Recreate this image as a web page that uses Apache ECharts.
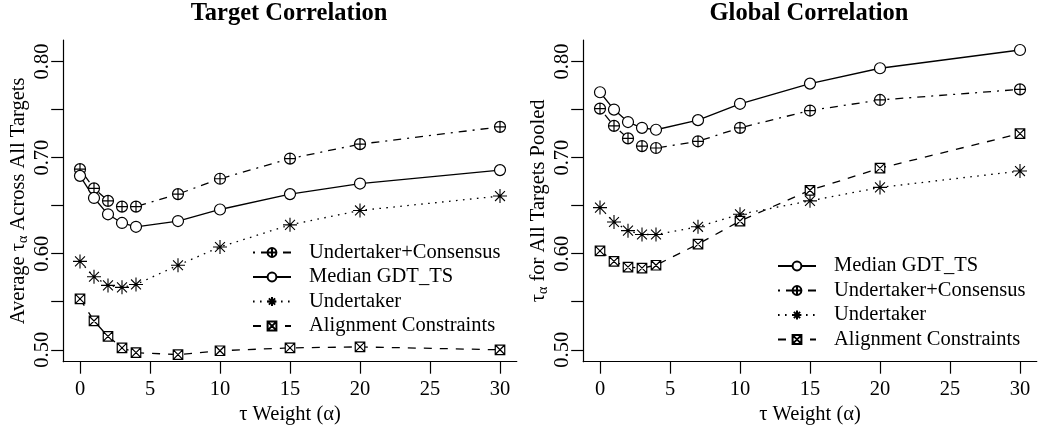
<!DOCTYPE html>
<html><head><meta charset="utf-8">
<script src="https://cdn.jsdelivr.net/npm/echarts@6/dist/echarts.min.js"></script>
<style>html,body{margin:0;padding:0;background:#fff}#c{width:1050px;height:433px}</style>
</head><body><div id="c"></div>
<script>
// ---- data ----
const xValues = [0, 1, 2, 3, 4, 7, 10, 15, 20, 30];
const xTicks = [0, 5, 10, 15, 20, 25, 30];
const yTicks = [0.50, 0.55, 0.60, 0.65, 0.70, 0.75, 0.80];
const yLabels = [0.50, 0.60, 0.70, 0.80];

const panelTitles = ['Target Correlation', 'Global Correlation'];
const xAxisTitle = 'τ Weight (α)';

// Target Correlation panel
const targetConsensus = [0.688, 0.668, 0.655, 0.649, 0.649, 0.662, 0.678, 0.699, 0.714, 0.732];
const targetMedian    = [0.681, 0.658, 0.641, 0.632, 0.628, 0.634, 0.646, 0.662, 0.673, 0.687];
const targetUndertaker= [0.592, 0.576, 0.567, 0.565, 0.568, 0.588, 0.607, 0.630, 0.645, 0.660];
const targetAlignment = [0.553, 0.530, 0.514, 0.502, 0.497, 0.495, 0.499, 0.502, 0.503, 0.500];

// Global Correlation panel
const globalMedian    = [0.768, 0.750, 0.737, 0.731, 0.729, 0.739, 0.756, 0.777, 0.793, 0.812];
const globalConsensus = [0.751, 0.733, 0.720, 0.712, 0.710, 0.717, 0.731, 0.749, 0.760, 0.771];
const globalUndertaker= [0.648, 0.633, 0.624, 0.620, 0.620, 0.628, 0.641, 0.655, 0.669, 0.686];
const globalAlignment = [0.603, 0.592, 0.586, 0.585, 0.588, 0.610, 0.634, 0.666, 0.689, 0.725];

const legendTarget = ['Undertaker+Consensus', 'Median GDT_TS', 'Undertaker', 'Alignment Constraints'];
const legendGlobal = ['Median GDT_TS', 'Undertaker+Consensus', 'Undertaker', 'Alignment Constraints'];

// ---- styles ----
const FONT = 'Liberation Serif, Times New Roman, serif';
const FS = 20.5;
const styles = {
  'Undertaker+Consensus': {
    symbol: 'path://M0,-10 A10,10 0 1,1 0,10 A10,10 0 1,1 0,-10 Z M-10,0 L10,0 M0,-10 L0,10',
    size: 11, dash: [2, 6, 8, 6], fill: '#fff', bw: 1.2
  },
  'Median GDT_TS': { symbol: 'circle', size: 11, dash: 'solid', fill: '#fff', bw: 1.2 },
  'Undertaker': {
    symbol: 'path://M-10,0 L10,0 M0,-10 L0,10 M-7.07,-7.07 L7.07,7.07 M-7.07,7.07 L7.07,-7.07',
    size: 14, dash: [1.6, 5.4], fill: '#000', bw: 1.1
  },
  'Alignment Constraints': {
    symbol: 'path://M-10,-10 L10,-10 L10,10 L-10,10 Z M-10,-10 L10,10 M-10,10 L10,-10',
    size: 9.5, dash: [8, 8], fill: '#fff', bw: 1.2
  }
};

function mkSeries(name, values, idx) {
  const s = styles[name];
  return {
    type: 'line', name: name, xAxisIndex: idx, yAxisIndex: idx,
    data: xValues.map((x, i) => [x, values[i]]),
    symbol: s.symbol, symbolSize: s.size, showSymbol: true,
    itemStyle: { color: s.fill, borderColor: '#000', borderWidth: s.bw },
    lineStyle: { color: '#000', width: 1.3, type: s.dash },
    emphasis: { disabled: true }, animation: false, z: 3
  };
}

const grids = [
  { left: 63.2, top: 40, width: 453.6, height: 321.7 },
  { left: 583.2, top: 40, width: 453.6, height: 321.7 }
];
const yNames = [
  '{m|Average τ}{s|α}{m| Across All Targets}',
  '{m|τ}{s|α}{m| for All Targets Pooled}'
];
const axisLineStyle = { color: '#000', width: 1.2 };

function mkX(i) {
  return {
    type: 'value', gridIndex: i, min: -1.2, max: 31.2,
    splitLine: { show: false },
    axisLine: { show: true, lineStyle: axisLineStyle, onZero: false },
    axisTick: { show: true, length: 12, lineStyle: axisLineStyle, customValues: xTicks },
    axisLabel: { customValues: xTicks, margin: 17, color: '#000', fontFamily: FONT, fontSize: FS },
    name: xAxisTitle, nameLocation: 'middle', nameGap: 40,
    nameTextStyle: { color: '#000', fontFamily: FONT, fontSize: FS }
  };
}
function mkY(i) {
  return {
    type: 'value', gridIndex: i, min: 0.4876, max: 0.8224,
    splitLine: { show: false },
    axisLine: { show: true, lineStyle: axisLineStyle, onZero: false },
    axisTick: { show: true, length: 12, lineStyle: axisLineStyle, customValues: yTicks },
    axisLabel: {
      customValues: yLabels, rotate: 90, margin: 10, color: '#000',
      fontFamily: FONT, fontSize: FS, formatter: v => v.toFixed(2)
    },
    name: yNames[i], nameLocation: 'middle', nameGap: 33, nameRotate: 90,
    nameTextStyle: {
      color: '#000', fontFamily: FONT, fontSize: FS,
      rich: {
        m: { fontFamily: FONT, fontSize: FS, lineHeight: 24, color: '#000' },
        s: { fontFamily: FONT, fontSize: 14, lineHeight: 10, verticalAlign: 'bottom', color: '#000' }
      }
    }
  };
}

function mkLegend(data, left, top) {
  return {
    data: data, orient: 'vertical', left: left, top: top,
    itemWidth: 38, itemHeight: 11, itemGap: 3.5, padding: 0,
    selectedMode: false, inactiveColor: '#000',
    textStyle: { color: '#000', fontFamily: FONT, fontSize: FS, padding: [0, 0, 0, 13] }
  };
}

const option = {
  backgroundColor: '#fff',
  animation: false,
  title: [
    { text: panelTitles[0], left: 289, top: 1.5, textAlign: 'center', padding: 0,
      textStyle: { fontFamily: FONT, fontSize: 24.5, fontWeight: 'bold', color: '#000' } },
    { text: panelTitles[1], left: 809, top: 1.5, textAlign: 'center', padding: 0,
      textStyle: { fontFamily: FONT, fontSize: 24.5, fontWeight: 'bold', color: '#000' } }
  ],
  legend: [mkLegend(legendTarget, 252, 242), mkLegend(legendGlobal, 777, 255.5)],
  grid: grids,
  xAxis: [mkX(0), mkX(1)],
  yAxis: [mkY(0), mkY(1)],
  series: [
    mkSeries('Undertaker+Consensus', targetConsensus, 0),
    mkSeries('Median GDT_TS', targetMedian, 0),
    mkSeries('Undertaker', targetUndertaker, 0),
    mkSeries('Alignment Constraints', targetAlignment, 0),
    mkSeries('Median GDT_TS', globalMedian, 1),
    mkSeries('Undertaker+Consensus', globalConsensus, 1),
    mkSeries('Undertaker', globalUndertaker, 1),
    mkSeries('Alignment Constraints', globalAlignment, 1)
  ]
};
const chart = echarts.init(document.getElementById('c'), null, { renderer: 'canvas' });
chart.setOption(option);
</script>
</body></html>
